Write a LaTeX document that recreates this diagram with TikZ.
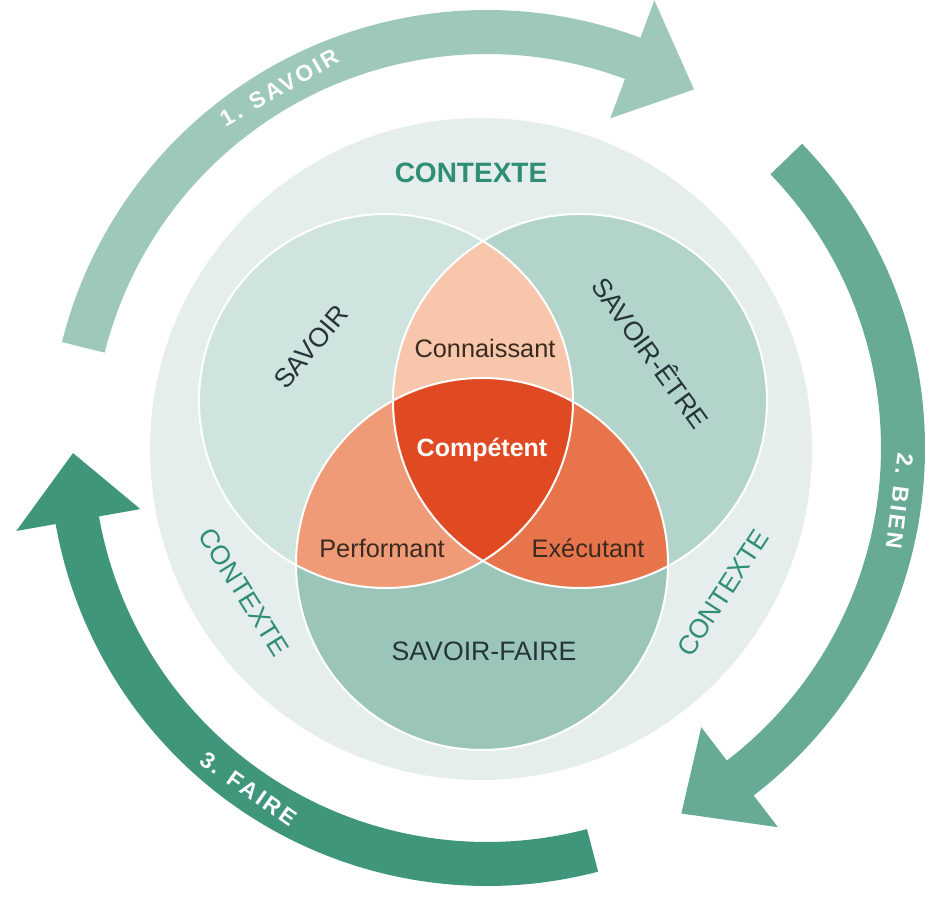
\documentclass[tikz,border=0pt]{standalone}
\usepackage{fontspec}
\setmainfont{Liberation Sans}
\newfontfamily\bandfont{Liberation Sans}[LetterSpace=12]
\usepackage{tikz}

\definecolor{ringgray}{HTML}{E5EEEC}
\definecolor{savoircol}{HTML}{D0E4DF}
\definecolor{etrecol}{HTML}{B3D4CB}
\definecolor{fairecol}{HTML}{9BC5B9}
\definecolor{connaissantcol}{HTML}{F7C6AB}
\definecolor{performantcol}{HTML}{EF9B78}
\definecolor{executantcol}{HTML}{E8744B}
\definecolor{competentcol}{HTML}{DF4A23}
\definecolor{bandone}{HTML}{9DC8BB}
\definecolor{bandtwo}{HTML}{67AB97}
\definecolor{bandthree}{HTML}{3F967B}
\definecolor{contextcol}{HTML}{2F8E74}
\definecolor{darkslate}{HTML}{25343A}
\definecolor{darkbrown}{HTML}{3A2A20}

\begin{document}
\begin{tikzpicture}[x=0.75pt, y=0.75pt,
    every node/.style={inner sep=0pt},
    venncap/.style={font=\fontsize{20}{23}\selectfont, text=darkslate},
    overlap/.style={font=\fontsize{19}{22}\selectfont, text=darkbrown},
    contextlabel/.style={font=\fontsize{20}{23}\selectfont, text=contextcol},
    bandlabel/.style={font=\bandfont\bfseries\fontsize{17}{20}\selectfont, text=white},
    outline/.style={white, line width=1.5pt}]
        \useasboundingbox (0,0) rectangle (925,898);

        % Centres
        \coordinate (hub) at (487,450);
        \coordinate (ctx) at (481,449);
        \coordinate (cs) at (386,497);
        \coordinate (ce) at (580,497);
        \coordinate (cf) at (482,334);

        % Context ring
        \fill[ringgray] (ctx) circle[radius=331];

        % Three circles
        \fill[savoircol] (cs) circle[radius=187];
        \fill[etrecol] (ce) circle[radius=187];
        \fill[fairecol] (cf) circle[radius=186];

        % Overlaps
        \begin{scope}
            \clip (cs) circle[radius=187];
            \fill[connaissantcol] (ce) circle[radius=187];
            \fill[performantcol] (cf) circle[radius=186];
        \end{scope}
        \begin{scope}
            \clip (ce) circle[radius=187];
            \fill[executantcol] (cf) circle[radius=186];
            \clip (cs) circle[radius=187];
            \fill[competentcol] (cf) circle[radius=186];
        \end{scope}
        \draw[outline] (cs) circle[radius=187];
        \draw[outline] (ce) circle[radius=187];
        \draw[outline] (cf) circle[radius=186];

        % Circle labels
        \node[venncap, rotate=50] (savoir) at (311,551) {SAVOIR};
        \node[venncap, rotate=-54] (etre) at (652,546) {SAVOIR-ÊTRE};
        \node[venncap] (faire) at (484,247) {SAVOIR-FAIRE};
        \node[overlap] (connaissant) at (485,550) {Connaissant};
        \node[overlap] (performant) at (382,350) {Performant};
        \node[overlap] (executant) at (588,350) {Exécutant};
        \node[font=\bfseries\fontsize{18.75}{22}\selectfont, text=white] (competent) at (482,448) {Compétent};

        % Context labels
        \node[contextlabel, font=\bfseries\fontsize{21}{24}\selectfont] (ctxtop) at (471,725) {CONTEXTE};
        \node[contextlabel, rotate=-58] (ctxleft) at (244,306) {CONTEXTE};
        \node[contextlabel, rotate=57] (ctxright) at (723,305) {CONTEXTE};

        % Arrow 1: savoir
        \fill[bandone, shift={(hub)}] (166:438) arc[start angle=166, end angle=69.5, radius=438]
            -- (69.5:478) -- (60:414) -- (69.5:352) -- (69.5:394)
            arc[start angle=69.5, end angle=166, radius=394] -- cycle;
        \node[bandlabel, rotate=30] (stepone) at ([shift={(hub)}]120:416) {1. SAVOIR};

        % Arrow 2: bien
        \fill[bandtwo, shift={(hub)}] (44:438) arc[start angle=44, end angle=-52.5, radius=438]
            -- (-52.5:478) -- (-62:414) -- (-52.5:352) -- (-52.5:394)
            arc[start angle=-52.5, end angle=44, radius=394] -- cycle;
        \node[bandlabel, rotate=-97.3] (steptwo) at ([shift={(hub)}]-7.3:416) {2. BIEN};

        % Arrow 3: faire
        \fill[bandthree, shift={(hub)}] (-75.3:438) arc[start angle=-75.3, end angle=-170, radius=438]
            -- (-170:478) -- (-179.3:414) -- (-170:352) -- (-170:394)
            arc[start angle=-170, end angle=-75.3, radius=394] -- cycle;
        \node[bandlabel, rotate=-35] (stepthree) at ([shift={(hub)}]235:416) {3. FAIRE};
    \end{tikzpicture}
\end{document}
